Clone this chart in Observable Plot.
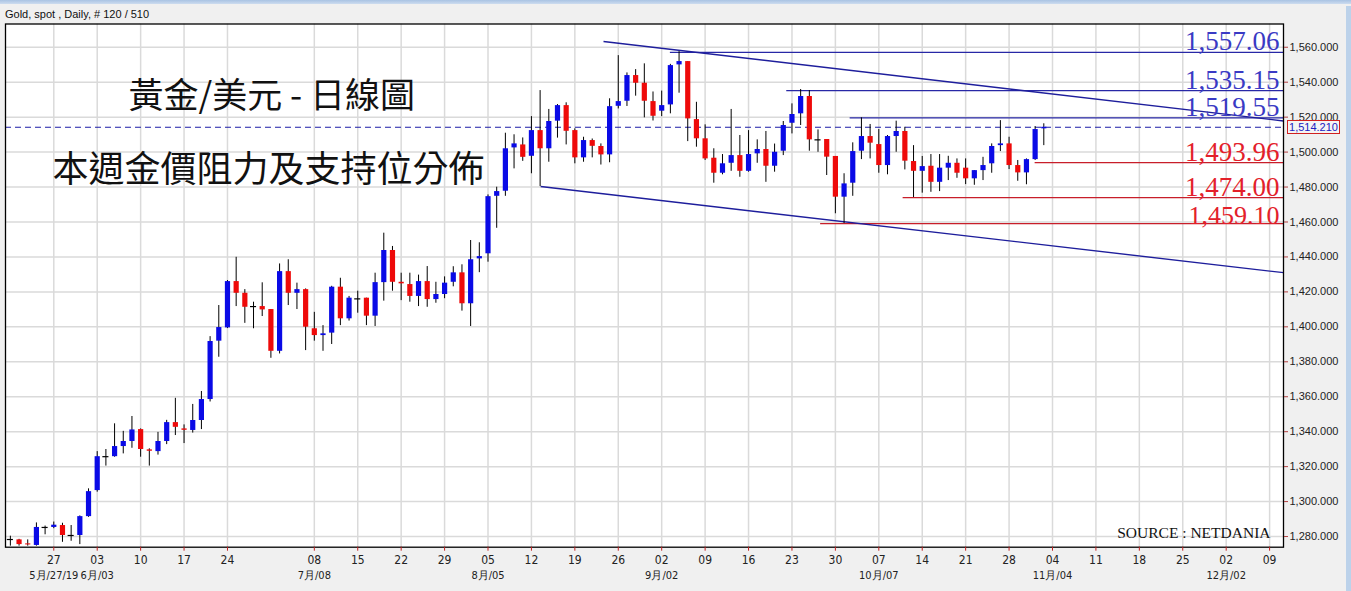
<!DOCTYPE html>
<html><head><meta charset="utf-8">
<script src="https://cdn.jsdelivr.net/npm/d3@7"></script>
<script src="https://cdn.jsdelivr.net/npm/@observablehq/plot@0.6"></script>
<style>
body{margin:0;background:#f0f0f0;}
#wrap{position:relative;width:1351px;height:591px;overflow:hidden;background:#f0f0f0;}
#wrap svg{position:absolute;left:0;top:0;}
#topbar{position:absolute;left:0;top:0;width:1351px;height:4px;background:linear-gradient(#a9c3e3,#cddcef);}
#rightbar{position:absolute;right:0;top:6px;width:5px;height:585px;background:#bcd2ea;}
#hdr{position:absolute;left:5px;top:8px;font:11px "Liberation Sans",Arial,sans-serif;color:#111;white-space:pre;}
#pricebox{position:absolute;left:1287px;width:51px;height:12px;border:1px solid #d02020;background:#f4f4f4;font:11px "Liberation Sans",Arial,sans-serif;color:#2020c0;line-height:12px;text-align:center;}
</style></head>
<body><div id="wrap"><div id="topbar"></div><div id="hdr">Gold, spot , Daily, # 120 / 510</div><div id="rightbar"></div></div>
<script>
// ---- Data: daily OHLC, gold spot, trading days from 2019-05-20 to 2019-11-01 ----
const firstDay = "2019-05-20";
const open = [1278.3,1278.1,1275.8,1274.9,1285.2,1285.2,1286.3,1280.6,1280.6,1291.4,
1306.3,1325.7,1325.7,1331.5,1334.4,1341.2,1329.6,1328.6,1334.4,1345.2,
1341.6,1340.7,1346.4,1358.4,1391.8,1399.4,1425.9,1419.2,1411.6,1411.6,
1409.9,1386.0,1431.6,1419.2,1421.3,1398.9,1395.0,1396.4,1422.7,1404.6,
1416.0,1416.4,1406.1,1425.3,1443.7,1425.5,1424.2,1417.4,1425.9,1415.6,
1418.5,1425.5,1430.9,1413.2,1438.9,1441.8,1474.7,1477.6,1502.4,1504.1,
1497.6,1512.3,1501.9,1517.7,1526.6,1512.3,1496.7,1506.6,1503.2,1498.4,
1526.2,1529.1,1543.8,1539.4,1528.9,1523.4,1527.0,1549.9,1551.8,1518.6,
1507.6,1496.5,1487.9,1493.6,1498.0,1489.0,1499.0,1501.5,1491.9,1500.5,
1516.5,1521.9,1531.8,1507.0,1507.2,1497.5,1474.2,1482.2,1500.5,1508.9,
1504.3,1492.3,1508.9,1511.8,1494.6,1489.0,1491.9,1482.7,1490.8,1493.6,
1490.8,1484.7,1489.4,1493.3,1503.7,1504.7,1492.3,1488.1,1495.7,1513.3];
const high = [1280.2,1278.4,1278.1,1287.8,1286.0,1288.3,1287.6,1286.3,1291.8,1307.3,
1328.6,1329.8,1344.5,1340.2,1348.7,1341.6,1330.2,1339.6,1346.5,1359.1,
1343.9,1355.6,1363.0,1394.4,1412.2,1426.5,1439.8,1421.3,1414.1,1425.2,
1409.9,1436.0,1438.4,1425.0,1421.7,1408.3,1400.7,1423.2,1427.8,1417.4,
1420.4,1416.4,1430.7,1453.6,1446.0,1430.7,1430.7,1429.6,1434.5,1425.5,
1428.6,1434.4,1435.5,1449.4,1448.1,1475.5,1479.9,1510.8,1509.9,1508.1,
1520.3,1535.2,1524.4,1527.2,1528.2,1513.3,1508.5,1507.5,1504.7,1530.5,
1555.2,1545.3,1547.2,1550.5,1534.4,1534.9,1550.2,1557.5,1551.8,1528.5,
1515.6,1501.9,1498.6,1524.4,1509.5,1512.3,1507.0,1511.8,1504.6,1517.5,
1527.6,1535.8,1535.2,1512.7,1507.2,1497.5,1487.6,1505.3,1519.6,1515.8,
1512.9,1509.5,1517.7,1514.2,1503.7,1497.5,1498.6,1498.6,1497.6,1496.1,
1496.1,1489.4,1497.0,1504.7,1518.0,1508.5,1495.2,1496.1,1514.6,1516.2];
const low = [1274.5,1274.5,1274.5,1274.5,1281.0,1284.5,1276.7,1277.3,1275.4,1291.0,
1305.4,1320.3,1325.4,1327.3,1330.5,1325.4,1320.3,1326.6,1332.6,1337.8,
1333.2,1339.2,1341.2,1357.0,1382.6,1399.0,1411.6,1402.0,1398.9,1405.9,
1382.0,1384.5,1412.2,1409.9,1386.4,1391.8,1386.0,1389.9,1400.7,1403.3,
1407.8,1400.7,1400.2,1414.7,1420.4,1415.0,1414.1,1411.6,1411.2,1413.5,
1416.1,1422.9,1409.0,1400.2,1431.0,1437.0,1456.4,1474.7,1490.4,1494.7,
1487.6,1480.3,1494.2,1508.0,1504.1,1493.3,1494.2,1496.7,1492.6,1493.9,
1524.7,1526.1,1532.0,1519.6,1517.8,1520.3,1521.9,1533.7,1506.0,1502.8,
1495.2,1482.2,1487.0,1489.0,1485.6,1488.5,1493.6,1482.7,1488.5,1498.0,
1510.4,1515.2,1500.5,1499.9,1486.6,1464.7,1459.1,1474.7,1495.7,1496.1,
1487.9,1487.0,1499.9,1489.8,1474.0,1476.5,1477.0,1477.4,1483.7,1485.0,
1481.4,1481.0,1483.7,1487.9,1500.3,1490.0,1483.3,1481.3,1495.2,1503.7];
const close = [1278.3,1275.4,1275.2,1285.2,1285.2,1286.5,1280.6,1280.6,1291.4,1305.7,
1325.7,1325.7,1331.5,1334.4,1341.0,1329.8,1328.8,1334.4,1345.2,1342.5,
1340.8,1346.4,1358.4,1391.6,1399.6,1425.9,1419.2,1411.2,1411.6,1409.7,
1386.0,1431.6,1419.2,1421.3,1399.8,1395.0,1396.0,1422.7,1404.6,1416.4,
1416.0,1406.1,1425.3,1443.7,1425.5,1424.6,1417.4,1425.9,1415.6,1418.5,
1425.0,1430.9,1413.2,1438.4,1440.2,1474.5,1477.4,1501.9,1504.7,1497.0,
1512.3,1501.9,1517.5,1526.6,1511.9,1496.7,1506.6,1503.3,1498.4,1526.0,
1528.9,1543.8,1539.4,1529.1,1520.5,1526.6,1549.5,1551.8,1519.0,1507.6,
1496.1,1487.9,1493.3,1498.0,1489.0,1498.6,1501.5,1491.9,1499.9,1515.2,
1521.5,1531.8,1507.0,1507.0,1497.1,1474.2,1481.8,1500.3,1508.9,1505.1,
1492.3,1508.9,1511.8,1494.8,1489.0,1491.7,1482.7,1490.8,1493.6,1487.9,
1484.7,1489.4,1492.3,1503.2,1504.7,1492.3,1488.1,1495.7,1512.9,1514.21];

// Resistance / support levels (value, trading-day index where the line starts)
const levelValues = [1557.06, 1535.15, 1519.55, 1493.96, 1474.00, 1459.10];
const levelLabels = ["1,557.06", "1,535.15", "1,519.55", "1,493.96", "1,474.00", "1,459.10"];
const levelKinds  = ["resistance","resistance","resistance","support","support","support"];
const levelStart  = [76, 89.4, 96.7, 118, 102.8, 93.3];

// Trend channel (trading-day index, price) endpoints
const channelX1 = [68.3, 61.06];
const channelY1 = [1563.3, 1480.3];
const channelX2 = [146.6, 146.6];
const channelY2 = [1517.8, 1431.0];

// Axis ticks
const yTicks = d3.range(1280, 1561, 20);
const weekMondays = ["2019-05-27","2019-06-03","2019-06-10","2019-06-17","2019-06-24",
"2019-07-08","2019-07-15","2019-07-22","2019-07-29","2019-08-05","2019-08-12","2019-08-19",
"2019-08-26","2019-09-02","2019-09-09","2019-09-16","2019-09-23","2019-09-30","2019-10-07",
"2019-10-14","2019-10-21","2019-10-28","2019-11-04","2019-11-11","2019-11-18","2019-11-25",
"2019-12-02","2019-12-09"];
const monthDates  = ["2019-05-27","2019-06-03","2019-07-08","2019-08-05","2019-09-02","2019-10-07","2019-11-04","2019-12-02"];
const monthLabels = ["5月/27/19","6月/03","7月/08","8月/05","9月/02","10月/07","11月/04","12月/02"];

const titleText = "黃金/美元 - 日線圖";
const subtitleText = "本週金價阻力及支持位分佈";
const sourceText = "SOURCE : NETDANIA";

// ---- helpers ----
const parse = d3.utcParse("%Y-%m-%d");
const t0 = parse(firstDay);
const tradingIndex = s => { const d = parse(s); const days = d3.utcDay.count(t0, d); const w = Math.floor(days / 7); return w * 5 + (days % 7); };

const candles = open.map((o, i) => ({i, open: o, high: high[i], low: low[i], close: close[i]}));
const up = candles.filter(d => d.close > d.open);
const down = candles.filter(d => d.close < d.open);
const doji = candles.filter(d => d.close === d.open);
const levels = levelValues.map((v, j) => ({value: v, label: levelLabels[j], kind: levelKinds[j], start: levelStart[j]}));
const channels = channelX1.map((x, j) => ({x1: x, y1: channelY1[j], x2: channelX2[j], y2: channelY2[j]}));
const weekIdx = weekMondays.map(tradingIndex);
const weekLab = new Map(weekMondays.map(s => [tradingIndex(s), s.slice(8)]));
const monthIdx = monthDates.map(tradingIndex);
const monthLab = new Map(monthDates.map((s, j) => [tradingIndex(s), monthLabels[j]]));
const lastClose = close[close.length - 1];

const xDomain = [-0.56, 146.6];
const BLUE = "#0a0ae6", RED = "#ee0a0a";
const blueText = "#3a3ac4", redText = "#e3202a";
const blueLine = "#2828a6", redLine = "#c81e2a";
const narrow = "'Liberation Sans Narrow','DejaVu Sans Condensed','Liberation Sans',sans-serif";
const serif = "'Liberation Serif','Times New Roman',serif";

const plot = Plot.plot({
  width: 1351, height: 591,
  marginLeft: 5, marginRight: 68, marginTop: 23.5, marginBottom: 44.3,
  style: {background: "transparent", overflow: "visible"},
  x: {type: "linear", domain: xDomain},
  y: {domain: [1273.9, 1573.3]},
  marks: [
    Plot.frame({fill: "white", stroke: null}),
    Plot.gridX(weekIdx, {stroke: "#dadada", strokeOpacity: 1, strokeWidth: 1.5}),
    Plot.gridY(yTicks, {stroke: "#dadada", strokeOpacity: 1, strokeWidth: 1.5}),
    Plot.ruleY([lastClose], {stroke: "#1c1ca8", strokeWidth: 1.2, strokeDasharray: "6,4"}),
    Plot.ruleY(levels, {y: "value", x1: "start", x2: () => xDomain[1],
      stroke: d => d.kind === "resistance" ? blueLine : redLine, strokeWidth: 1.2}),
    Plot.link(channels, {x1: "x1", y1: "y1", x2: "x2", y2: "y2", stroke: "#1e1e9c", strokeWidth: 1.4}),
    Plot.ruleX(candles, {x: "i", y1: "low", y2: "high", stroke: "black", strokeWidth: 1}),
    Plot.ruleX(up, {x: "i", y1: "open", y2: "close", stroke: BLUE, strokeWidth: 5.2}),
    Plot.ruleX(down, {x: "i", y1: "open", y2: "close", stroke: RED, strokeWidth: 5.2}),
    Plot.ruleY(doji, {y: "open", x1: d => d.i - 0.35, x2: d => d.i + 0.35, stroke: "black", strokeWidth: 1.2}),
    Plot.text(levels.slice(0, 5), {y: "value", frameAnchor: "right", text: "label", textAnchor: "end", lineAnchor: "bottom",
      dx: -4, dy: -2, fontSize: 27, fontFamily: serif,
      fill: d => d.kind === "resistance" ? blueText : redText}),
    Plot.text(levels.slice(5), {y: "value", frameAnchor: "right", text: "label", textAnchor: "end", lineAnchor: "bottom",
      dx: -4, dy: 0, fontSize: 26, fontFamily: serif, fill: redText}),
    Plot.text([titleText], {frameAnchor: "top-left", text: d => d, dx: 123, dy: 72.5, textAnchor: "start",
      lineAnchor: "middle", fontSize: 35, fontFamily: "'Noto Sans CJK TC','Noto Sans CJK SC',sans-serif", fill: "#111"}),
    Plot.text([subtitleText], {frameAnchor: "top-left", text: d => d, dx: 47, dy: 146.5, textAnchor: "start",
      lineAnchor: "middle", fontSize: 36, fontFamily: "'Noto Sans CJK TC','Noto Sans CJK SC',sans-serif", fill: "#111"}),
    Plot.text([sourceText], {frameAnchor: "bottom-right", text: d => d, dx: -13, dy: -14.5, textAnchor: "end",
      lineAnchor: "middle", fontSize: 15.5, fontFamily: serif, fill: "#111"}),
    Plot.frame({stroke: "black", strokeWidth: 1.3}),
    Plot.axisY(yTicks, {anchor: "right", tickSize: 4, tickPadding: 2, tickFormat: d3.format(",.3f"),
      fontSize: 11, fontFamily: "'Liberation Sans',Arial,sans-serif", stroke: "#b04040", fill: "#222"}),
    Plot.axisX(weekIdx, {anchor: "bottom", tickSize: 4, tickPadding: 4, tickFormat: i => weekLab.get(i),
      fontSize: 12, fontFamily: narrow, stroke: "#c02020", fill: "#222"}),
    Plot.axisX(monthIdx, {anchor: "bottom", tickSize: 0, tickPadding: 24, tickFormat: i => monthLab.get(i),
      fontSize: 11, fontFamily: narrow, fill: "#222"})
  ]
});
const wrap = document.getElementById("wrap");
wrap.insertBefore(plot, wrap.firstChild);
const py = plot.scale("y").apply(lastClose);
const box = document.createElement("div");
box.id = "pricebox";
box.style.top = (py - 7) + "px";
box.textContent = d3.format(",.3f")(lastClose);
wrap.appendChild(box);
</script></body></html>
